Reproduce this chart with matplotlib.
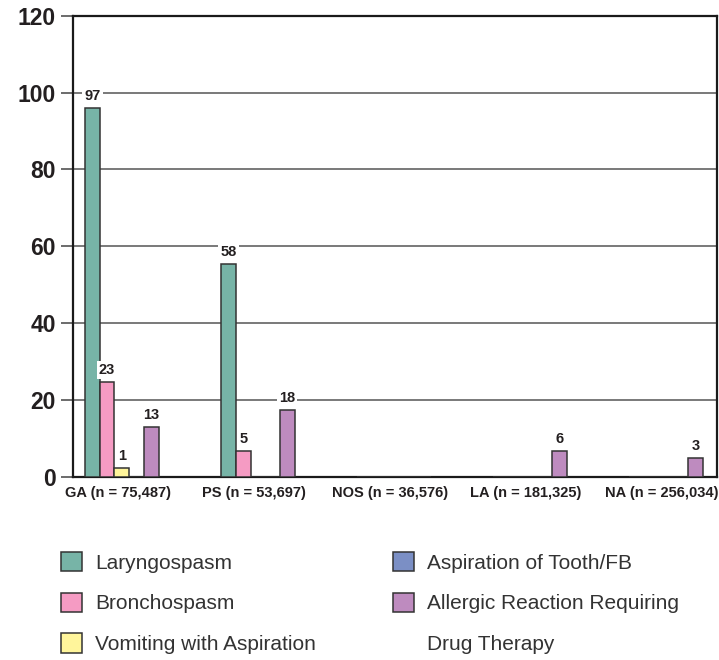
import matplotlib
matplotlib.use("Agg")
import matplotlib.pyplot as plt
from matplotlib.patches import Patch
import numpy as np

plt.rcParams['font.family'] = ['Liberation Sans', 'DejaVu Sans']

groups = ['GA (n = 75,487)', 'PS (n = 53,697)', 'NOS (n = 36,576)',
          'LA (n = 181,325)', 'NA (n = 256,034)']
series = ['Laryngospasm', 'Bronchospasm', 'Vomiting with Aspiration',
          'Aspiration of Tooth/FB', 'Allergic Reaction Requiring']
colors = ['#77b4a7', '#f59bc3', '#fff59b', '#7b8fc5', '#be8bbf']

# bar heights as drawn in the picture
laryngospasm = [95.9, 55.4, 0, 0, 0]
bronchospasm = [24.6, 6.7, 0, 0, 0]
vomiting = [2.2, 0, 0, 0, 0]
aspiration = [0, 0, 0, 0, 0]
allergic = [12.9, 17.3, 0, 6.7, 4.9]

# printed value labels
laryngospasm_lbl = ['97', '58', '', '', '']
bronchospasm_lbl = ['23', '5', '', '', '']
vomiting_lbl = ['1', '', '', '', '']
aspiration_lbl = ['', '', '', '', '']
allergic_lbl = ['13', '18', '', '6', '3']

values = [laryngospasm, bronchospasm, vomiting, aspiration, allergic]
labels = [laryngospasm_lbl, bronchospasm_lbl, vomiting_lbl, aspiration_lbl, allergic_lbl]

fig = plt.figure(figsize=(7.19, 6.60), dpi=100)
ax = fig.add_axes([0.102, 0.2777, 0.8946, 0.6985])

x = np.arange(len(groups))
w = 0.108
for i, (vals, lbls) in enumerate(zip(values, labels)):
    pos = x + (i - 2) * w
    ax.bar(pos, vals, width=w, color=colors[i], edgecolor='#333333',
           linewidth=1.1, zorder=3)
    for p, v, t in zip(pos, vals, lbls):
        if t:
            ax.annotate(t, (p, v), xytext=(0, 8.5), textcoords='offset points',
                        ha='center', va='center', fontsize=10.5,
                        fontweight='bold', color='#231f20', zorder=4,
                        bbox=dict(facecolor='white', edgecolor='none', pad=1.5))

ax.set_ylim(0, 120)
ax.set_xlim(-0.356, 4.370)
ax.set_yticks(np.arange(0, 121, 20))
ax.yaxis.grid(True, color='#555555', linewidth=1.1, zorder=0)
ax.set_axisbelow(True)
# category labels sit a touch left of the bar groups
ax.set_xticks(x - 0.03)
ax.set_xticklabels(groups, fontsize=10.5, fontweight='bold', color='#231f20')
ax.tick_params(axis='x', length=0, pad=7)
ax.tick_params(axis='y', length=8.5, width=1.1, color='#444444', pad=4,
               labelsize=16.5, labelcolor='#231f20')
for lbl in ax.get_yticklabels():
    lbl.set_fontweight('bold')
for s in ax.spines.values():
    s.set_linewidth(1.6)
    s.set_color('#1a1a1a')

handles = [Patch(facecolor=c, edgecolor='#333333', linewidth=1.1) for c in colors]
handles.append(Patch(facecolor='none', edgecolor='none'))
leg_labels = series + ['Drug Therapy']
fig.legend(handles, leg_labels, ncol=2, loc='upper left',
           bbox_to_anchor=(0.0845, 1 - 552 / 660), frameon=False,
           fontsize=15, handlelength=1.0, handleheight=1.04,
           handletextpad=0.64, labelspacing=0.96, columnspacing=3.7,
           borderpad=0, borderaxespad=0, labelcolor='#333333')

fig.savefig('out.png', dpi=100)
